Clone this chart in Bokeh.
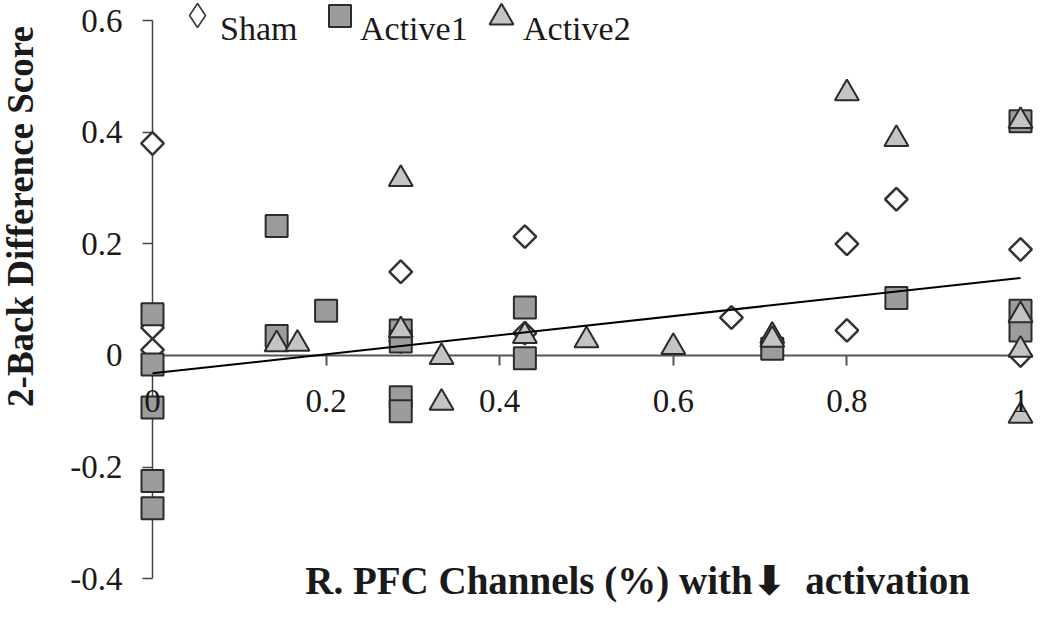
import math
from bokeh.plotting import figure
from bokeh.models import (FixedTicker, Label, Legend, LegendItem, Range1d,
                          LinearAxis, NumeralTickFormatter)
from bokeh.embed import file_html
from bokeh.resources import INLINE

# ---------------- data ----------------
sham_x = [0, 0, 0, 0.286, 0.286, 0.429, 0.429, 0.667, 0.8, 0.8, 0.857, 1, 1]
sham_y = [0.38, 0.05, 0.01, 0.15, 0.025, 0.213, 0.04, 0.068, 0.2, 0.045, 0.28, 0.19, 0.0]

active1_x = [0, 0, 0, 0, 0, 0.143, 0.143, 0.2, 0.286, 0.286, 0.286, 0.286,
             0.429, 0.429, 0.714, 0.857, 1, 1, 1]
active1_y = [0.074, -0.016, -0.093, -0.225, -0.274, 0.232, 0.035, 0.08, 0.045,
             0.025, -0.075, -0.1, 0.086, -0.005, 0.012, 0.103, 0.42, 0.08, 0.045]

active2_x = [0.143, 0.167, 0.286, 0.286, 0.333, 0.333, 0.429, 0.5, 0.6, 0.714,
             0.714, 0.8, 0.857, 1, 1, 1, 1]
active2_y = [0.02, 0.021, 0.316, 0.045, -0.003, -0.085, 0.035, 0.027, 0.015,
             0.035, 0.028, 0.47, 0.388, 0.42, 0.072, 0.01, -0.108]

trend_x = [0, 1]
trend_y = [-0.032, 0.139]

x_ticks = [0, 0.2, 0.4, 0.6, 0.8, 1]
x_tick_labels = ["0", "0.2", "0.4", "0.6", "0.8", "1"]
y_ticks = [-0.4, -0.2, 0, 0.2, 0.4, 0.6]
y_tick_labels = ["-0.4", "-0.2", "0", "0.2", "0.4", "0.6"]

series_names = ["Sham", "Active1", "Active2"]
x_title = "R. PFC Channels (%) with\u2b07\u2002activation"
y_title = "2-Back Difference Score"

# ---------------- figure ----------------
SERIF = "Liberation Serif"
INK = "#1a1a1a"
W, H = 1034, 602
p = figure(width=W, height=H, output_backend="svg", toolbar_location=None,
           x_range=Range1d(-0.17512, 1.01613), y_range=Range1d(-0.4427, 0.6362),
           x_axis_location=None, y_axis_location=None, title=None,
           min_border=0, min_border_left=0, min_border_right=0,
           min_border_top=0, min_border_bottom=0)
p.outline_line_color = None
p.background_fill_color = "white"
p.border_fill_color = "white"
p.grid.visible = False

x_overrides = {f"{t:g}": s for t, s in zip(x_ticks, x_tick_labels)}
y_overrides = {f"{t:g}": s for t, s in zip(y_ticks, y_tick_labels)}

# x axis line + ticks (behind the markers)
xa = LinearAxis(fixed_location=0, bounds=(0, 1),
                ticker=FixedTicker(ticks=x_ticks),
                formatter=NumeralTickFormatter(format="0.[0]"),
                major_label_overrides=x_overrides)
xa.level = "underlay"
xa.axis_line_color = "#555555"
xa.axis_line_width = 2
xa.major_tick_line_color = "#555555"
xa.major_tick_line_width = 2
xa.major_tick_in = 0
xa.major_tick_out = 10
xa.minor_tick_line_color = None
xa.major_label_text_alpha = 0
xa.major_label_standoff = 25
xa.major_label_text_font = SERIF
xa.major_label_text_font_size = "33px"
p.add_layout(xa, "below")

# x tick labels (drawn over the markers, as in the reference)
xl = LinearAxis(fixed_location=0, bounds=(0, 1),
                ticker=FixedTicker(ticks=x_ticks),
                formatter=NumeralTickFormatter(format="0.[0]"),
                major_label_overrides=x_overrides)
xl.axis_line_color = None
xl.major_tick_line_color = None
xl.minor_tick_line_color = None
xl.major_tick_in = 0
xl.major_tick_out = 10
xl.major_label_standoff = 25
xl.major_label_text_font = SERIF
xl.major_label_text_font_size = "33px"
xl.major_label_text_color = INK
p.add_layout(xl, "below")

ya = LinearAxis(fixed_location=0, bounds=(-0.4, 0.6),
                ticker=FixedTicker(ticks=y_ticks),
                formatter=NumeralTickFormatter(format="0.[0]"),
                major_label_overrides=y_overrides)
ya.level = "underlay"
ya.axis_line_color = "#444444"
ya.axis_line_width = 1.5
ya.major_tick_line_color = "#444444"
ya.major_tick_line_width = 1.5
ya.major_tick_in = 0
ya.major_tick_out = 10
ya.minor_tick_line_color = None
ya.major_label_standoff = 20
ya.major_label_text_font = SERIF
ya.major_label_text_font_size = "33px"
ya.major_label_text_color = INK
p.add_layout(ya, "left")

r_sham = p.scatter(sham_x, sham_y, marker="square", angle=math.pi / 4, size=16,
                   fill_color="white", line_color="#333333", line_width=2.5)
r_a1 = p.scatter(active1_x, active1_y, marker="square", size=22,
                 fill_color="#9c9c9c", line_color="#2b2b2b", line_width=2)
r_a2 = p.scatter(active2_x, active2_y, marker="triangle", size=24,
                 fill_color="#c4c4c4", line_color="#2b2b2b", line_width=2)
p.line(trend_x, trend_y, line_color="black", line_width=2)

# hidden copy of the Sham series, only so that its legend key is a diamond
leg_sham = p.scatter(sham_x, sham_y, marker="diamond", size=24, visible=False,
                     fill_color="white", line_color="#333333", line_width=1.5)
# hidden, fully transparent renderer used for the text-only legend entries
leg_blank = p.scatter(sham_x, sham_y, marker="square", size=1, visible=False,
                      fill_alpha=0, line_alpha=0)

legend_common = dict(orientation="horizontal", border_line_color=None,
                     background_fill_alpha=0, inactive_fill_alpha=0,
                     padding=0, margin=0, spacing=0, label_standoff=0,
                     label_text_font=SERIF, label_text_font_size="34px",
                     label_text_color=INK)

# legend keys (glyphs sit a little above their labels in the reference)
key_specs = [
    # renderer, glyph box, location
    (leg_sham, 60, (167, 557)),
    (r_a1, 55, (311.5, 559.5)),
    (r_a2, 60, (471, 555)),
]
for rend, gbox, loc in key_specs:
    p.add_layout(Legend(items=[LegendItem(label=" ", renderers=[rend])],
                        location=loc, glyph_width=gbox, glyph_height=gbox,
                        label_height=gbox, **legend_common))

# legend labels
label_locs = [(218, 553.5), (358, 553.5), (521, 553.5)]
for name, loc in zip(series_names, label_locs):
    p.add_layout(Legend(items=[LegendItem(label=name, renderers=[leg_blank])],
                        location=loc, glyph_width=2, glyph_height=2,
                        label_height=40, **legend_common))

p.add_layout(Label(x=0.5588, y=-0.4032, text=x_title, text_font=SERIF,
                   text_font_style="bold", text_font_size="39px",
                   text_align="center", text_baseline="middle",
                   text_color=INK))
p.add_layout(Label(x=-0.1521, y=0.2491, text=y_title, text_font=SERIF,
                   text_font_style="bold", text_font_size="37px", angle=math.pi / 2,
                   text_align="center", text_baseline="middle",
                   text_color=INK))

open("out.html", "w").write(file_html(p, INLINE))
